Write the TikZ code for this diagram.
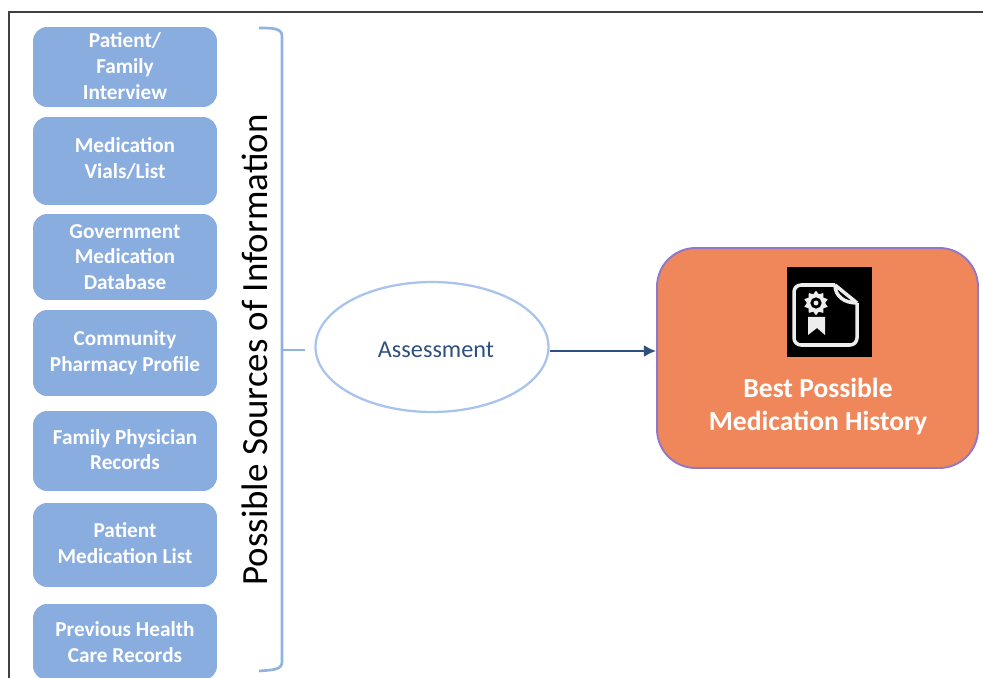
\documentclass[tikz,border=0pt]{standalone}
\usepackage{fontspec}
\setmainfont{Carlito}
\usepackage{xcolor}
\usepackage{tikz}
\usetikzlibrary{arrows.meta,shapes,positioning}
\definecolor{srcblue}{HTML}{8AADE0}
\definecolor{bracketblue}{HTML}{8FB3DF}
\definecolor{ovalblue}{HTML}{A9C4EC}
\definecolor{darkblue}{HTML}{2F4F80}
\definecolor{bpmorange}{HTML}{F0875A}
\definecolor{bpmedge}{HTML}{9078C8}
\definecolor{iconwhite}{HTML}{EDEDED}
\tikzset{
    source/.style={draw=none, fill=srcblue, rounded corners=8pt, minimum width=3.68cm, inner sep=0pt,
        align=center, text=white, font=\fontsize{12.1}{14.6}\selectfont\bfseries},
    sourcelabel/.style={align=center, text=white, inner sep=0pt, font=\fontsize{12.1}{14.6}\selectfont\bfseries},
    bpmtext/.style={text=white, font=\fontsize{15.7}{19}\selectfont\bfseries, align=center},
}

\begin{document}
\begin{tikzpicture}[x=0.02cm,y=-0.02cm]
    \useasboundingbox (0,0) rectangle (983,678);
    \draw[black!75, line width=1.3pt] (9,678) -- (9,12) -- (983,12);

    \node[source, minimum height=1.6cm] (interview) at (125,67) {};
    \node[sourcelabel] (interviewlabel) at (125,66) {Patient/\\Family\\Interview};
    \node[source, minimum height=1.76cm] (vials) at (125,161) {};
    \node[sourcelabel] (vialslabel) at (125,158.5) {Medication\\Vials/List};
    \node[source, minimum height=1.72cm] (database) at (125,257) {Government\\Medication\\Database};
    \node[source, minimum height=1.72cm] (pharmacy) at (125,353) {Community\\Pharmacy Profile};
    \node[source, minimum height=1.6cm] (physician) at (125,451) {};
    \node[sourcelabel] (physicianlabel) at (125,449.5) {Family Physician\\Records};
    \node[source, minimum height=1.68cm] (medlist) at (125,545) {};
    \node[sourcelabel] (medlistlabel) at (125,543) {Patient\\Medication List};
    \node[source, minimum height=1.52cm] (records) at (125,642) {Previous Health\\Care Records};

    \draw[bracketblue, line width=1.5pt] (259,28) .. controls (272,28) and (282,28) .. (282,36)
        -- (282,662) .. controls (282,670) and (272,670) .. (259,671);
    \coordinate (stub) at (282,350);
    \coordinate (stubend) at (305,350);
    \draw[bracketblue, line width=1.5pt] (stub) -- (stubend);

    \node[rotate=90, font=\fontsize{21}{24}\selectfont] (sources) at (255,350) {Possible Sources of Information};

    \node[draw=ovalblue, line width=1.3pt, ellipse, minimum width=4.66cm, minimum height=2.6cm, inner sep=0pt] (assess) at (432,347) {};
    \node[text=darkblue, font=\fontsize{13.8}{16}\selectfont] (assesslabel) at (436,350) {Assessment};

    \node[draw=bpmedge, fill=bpmorange, line width=1.1pt, rounded corners=22pt, minimum width=6.42cm,
        minimum height=4.4cm, inner sep=0pt] (bpm) at (817.5,358) {};
    \coordinate (arrowstart) at (assess.east |- 0,351);
    \coordinate (arrowend) at (bpm.west |- 0,351);
    \draw[-{Latex[length=7pt,width=7pt]}, darkblue, line width=1.6pt] (arrowstart) -- (arrowend);

    \node[bpmtext] (bpmlabel) at (818,406.5) {Best Possible\\Medication History};

    % icon
    \fill[black] (787,267) rectangle (872,357);
    \draw[iconwhite, line width=2pt, line join=round, rounded corners=4pt]
        (835,285) -- (794,285) -- (794,345) -- (857,345) -- (857,303);
    \draw[iconwhite, line width=2pt, line join=round]
        (835,285) -- (857,303) (835,285) .. controls (835,296) and (844,303) .. (857,303);
    \fill[iconwhite] (808,317) -- (825,317) -- (825,335) -- (817,328) -- (808,335) -- cycle;
    \node[star, star points=10, star point ratio=1.35, fill=iconwhite, draw=none, inner sep=0pt, minimum size=14pt] (gear) at (816,303) {};
    \fill[black] (gear.center) circle (3.2pt);
    \fill[iconwhite] (gear.center) circle (1.4pt);
\end{tikzpicture}
\end{document}
